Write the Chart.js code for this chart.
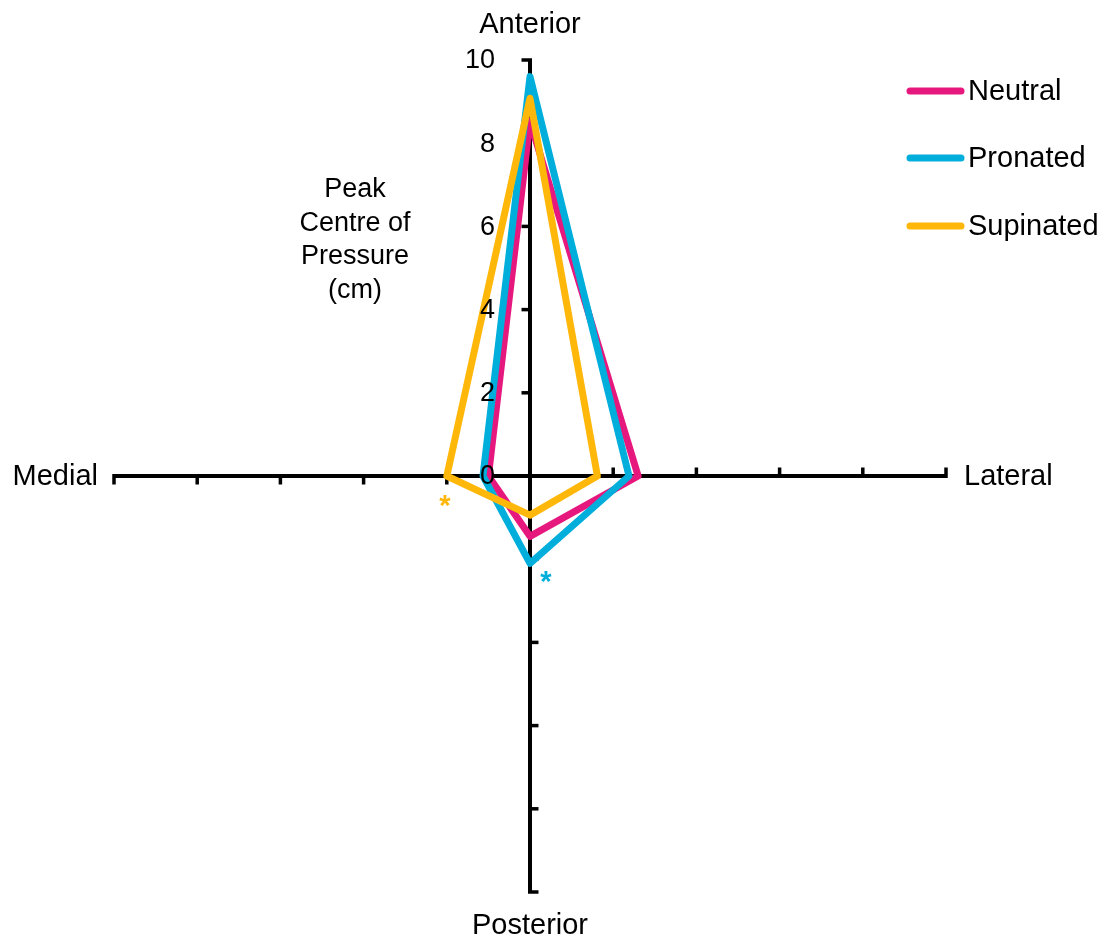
<!DOCTYPE html>
<html>
<head>
<meta charset="utf-8">
<script src="https://cdn.jsdelivr.net/npm/chart.js@4/dist/chart.umd.min.js"></script>
<style>
  html, body { margin: 0; padding: 0; background: #ffffff; }
  #wrap { width: 1110px; height: 937px; position: relative; }
</style>
</head>
<body>
<div id="wrap"><canvas id="cop" width="1110" height="937"></canvas></div>
<script>
// Spokes of the foot diagram, clockwise from the top
const categories = ['Anterior', 'Lateral', 'Posterior', 'Medial'];

// Peak centre of pressure (cm) along each direction
const neutral   = [8.53, 2.60, 1.45, 1.00];
const pronated  = [9.60, 2.38, 2.10, 1.13];
const supinated = [9.08, 1.62, 0.94, 2.00];

const seriesNames = ['Neutral', 'Pronated', 'Supinated'];
const seriesColors = ['#E6187E', '#00AEDB', '#FFB70A'];

// Values printed on the anterior spoke
const tickValues = [0, 2, 4, 6, 8, 10];

const FONT = 'Arial, "Liberation Sans", sans-serif';

// Spoke tick marks (drawn under the data lines)
const spokeTicks = {
  id: 'spokeTicks',
  beforeDatasetsDraw(chart) {
    const r = chart.scales.r;
    const ctx = chart.ctx;
    ctx.save();
    ctx.strokeStyle = '#000';
    ctx.lineWidth = 3.5;
    ctx.lineCap = 'butt';
    for (let i = 0; i < categories.length; i++) {
      for (const v of tickValues) {
        if (v === 0) continue;
        const p = r.getPointPositionForValue(i, v);
        const dx = Math.sin(p.angle), dy = -Math.cos(p.angle);
        ctx.beginPath();
        ctx.moveTo(p.x - dx * 2, p.y - dy * 2);
        ctx.lineTo(p.x + dx * 8.5, p.y + dy * 8.5);
        ctx.stroke();
      }
    }
    ctx.restore();
  }
};

// Direction names, value labels, title, legend and significance markers
const annotations = {
  id: 'annotations',
  afterDraw(chart) {
    const r = chart.scales.r;
    const ctx = chart.ctx;
    ctx.save();
    ctx.fillStyle = '#000';

    // value labels on the anterior spoke
    ctx.font = '27px ' + FONT;
    ctx.textAlign = 'right';
    ctx.textBaseline = 'middle';
    for (const v of tickValues) {
      const p = r.getPointPositionForValue(0, v);
      ctx.fillText(String(v), p.x - 35, p.y + 1);
    }

    // direction names at the spoke ends
    ctx.font = '29px ' + FONT;
    const ends = categories.map((c, i) => r.getPointPositionForValue(i, 10));
    ctx.textAlign = 'center';
    ctx.fillText(categories[0], ends[0].x, ends[0].y - 35);
    ctx.fillText(categories[2], ends[2].x, ends[2].y + 34);
    ctx.textAlign = 'left';
    ctx.fillText(categories[1], ends[1].x + 18, ends[1].y + 1);
    ctx.textAlign = 'right';
    ctx.fillText(categories[3], ends[3].x - 16, ends[3].y + 1);

    // axis title
    ctx.font = '27px ' + FONT;
    ctx.textAlign = 'center';
    const titleLines = ['Peak', 'Centre of', 'Pressure', '(cm)'];
    titleLines.forEach((t, k) => ctx.fillText(t, 355, 190 + k * 33.5));

    // legend
    const sets = chart.data.datasets;
    ctx.font = '29px ' + FONT;
    ctx.textAlign = 'left';
    ctx.lineCap = 'round';
    ctx.lineWidth = 7;
    const legendY = [91, 158, 226];
    sets.forEach((ds, k) => {
      ctx.strokeStyle = ds.borderColor;
      ctx.beginPath();
      ctx.moveTo(910, legendY[k]);
      ctx.lineTo(961, legendY[k]);
      ctx.stroke();
      ctx.fillStyle = '#000';
      ctx.fillText(ds.label, 968, legendY[k] + 1);
    });

    // significance markers
    ctx.font = 'bold 29px ' + FONT;
    ctx.textAlign = 'center';
    ctx.textBaseline = 'alphabetic';
    const supMedial = r.getPointPositionForValue(3, supinated[3]);
    ctx.fillStyle = seriesColors[2];
    ctx.fillText('*', supMedial.x - 2, supMedial.y + 39);
    const proPost = r.getPointPositionForValue(2, pronated[2]);
    ctx.fillStyle = seriesColors[1];
    ctx.fillText('*', proPost.x + 16, proPost.y + 28);

    ctx.restore();
  }
};

function series(label, data, color, order) {
  return {
    label, data, order,
    borderColor: color,
    backgroundColor: color,
    borderWidth: 7,
    borderJoinStyle: 'round',
    fill: false,
    pointRadius: 0,
    pointHoverRadius: 0,
    tension: 0
  };
}

new Chart(document.getElementById('cop'), {
  type: 'radar',
  data: {
    labels: categories,
    datasets: [
      series(seriesNames[0], neutral, seriesColors[0], 2),
      series(seriesNames[1], pronated, seriesColors[1], 1),
      series(seriesNames[2], supinated, seriesColors[2], 0)
    ]
  },
  options: {
    responsive: false,
    animation: false,
    devicePixelRatio: 1,
    layout: { padding: { left: 114, right: 164, top: 60, bottom: 44 } },
    plugins: {
      legend: { display: false },
      tooltip: { enabled: false },
      title: { display: false }
    },
    scales: {
      r: {
        min: 0,
        max: 10,
        ticks: { display: false, stepSize: 2 },
        grid: { display: false },
        pointLabels: { display: false },
        angleLines: { display: true, color: '#000', lineWidth: 4 }
      }
    }
  },
  plugins: [spokeTicks, annotations]
});
</script>
</body>
</html>
